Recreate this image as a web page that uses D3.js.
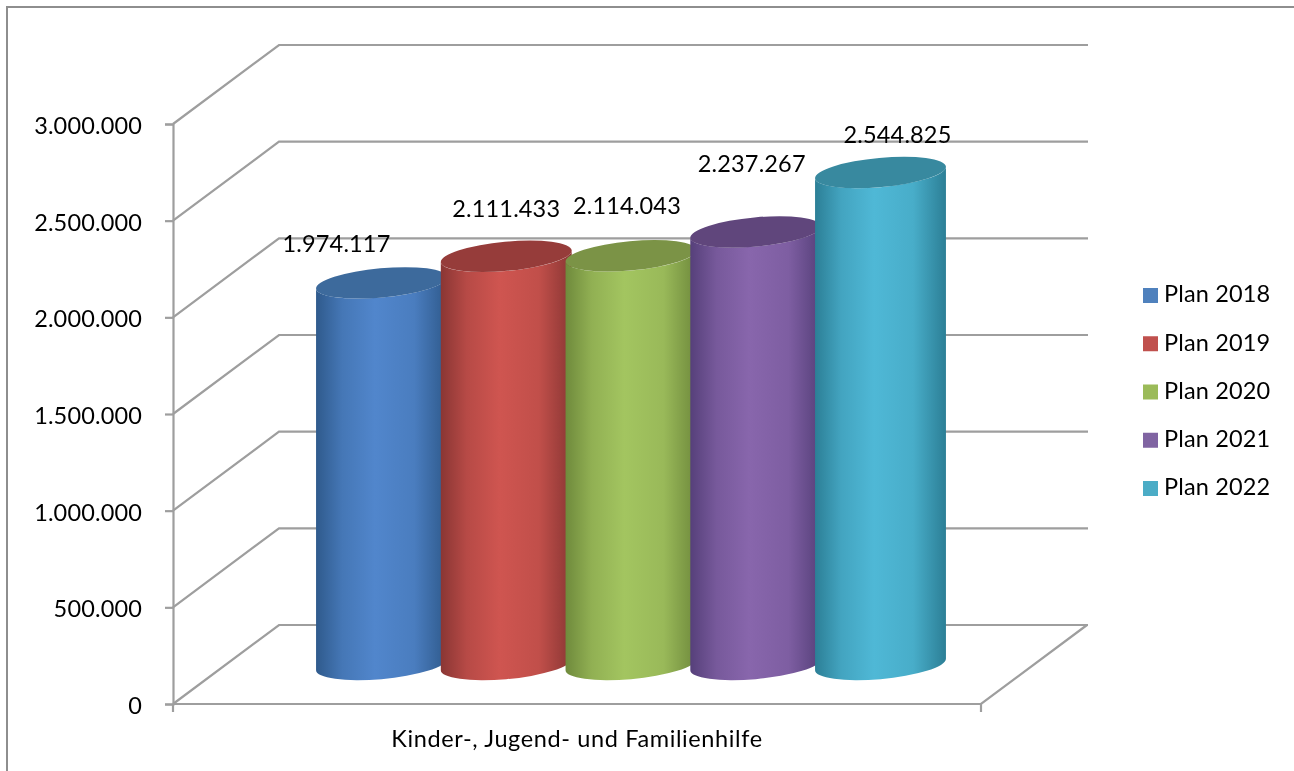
<!DOCTYPE html>
<html>
<head>
<meta charset="utf-8">
<script src="https://cdn.jsdelivr.net/npm/d3@7"></script>
<style>
  html, body { margin: 0; padding: 0; background: #fff; overflow: hidden; }
  svg { filter: blur(0.35px); }
  text { font-family: Lato, "Open Sans", sans-serif; fill: #000; letter-spacing: 0.15px; }
  .grid { fill: none; stroke: #9e9e9e; stroke-width: 2.2; }
</style>
</head>
<body>
<svg id="chart" width="1294" height="771"></svg>
<script>
const series = ["Plan 2018", "Plan 2019", "Plan 2020", "Plan 2021", "Plan 2022"];
const values = [1974117, 2111433, 2114043, 2237267, 2544825];
const category = ["Kinder-, Jugend- und Familienhilfe"];
const yTicks = [0, 500000, 1000000, 1500000, 2000000, 2500000, 3000000];

const mainColors = ["#5186cc", "#cf5550", "#a3c560", "#8866ac", "#4fb8d6"];
const darkColors = ["#2f5a8c", "#8a3634", "#6f8a3c", "#56407a", "#2c7f96"];
const topColors = ["#3d6a9c", "#963c3a", "#7b9346", "#60467c", "#38899f"];
const legendColors = ["#4f81bd", "#c0504d", "#9bbb59", "#8064a2", "#4bacc6"];

// nudge of the value labels away from the top of each cylinder
const labelDx = [-45, 0, -4, -4, 17];
const labelDy = [-39, -48, -50, -68, -38];

const fontSize = 23.5;

const svg = d3.select("#chart");
const de = d3.formatLocale({ decimal: ",", thousands: ".", grouping: [3], currency: ["", "€"] });
const fmt = de.format(",d");

const y = d3.scaleLinear().domain([0, 3000000]).range([704, 124]);
const x = d3.scalePoint().domain(series).range([381.5, 880.5]);

// 3d box: back wall is shifted by this much from the front edge
const depthX = 106, depthY = -79;
const frontRight = 981;
const backRight = 1088;

// outer frame, only left and top show
svg.append("path").attr("d", "M7,771V7H1294").attr("fill", "none").attr("stroke", "#8e8e8e").attr("stroke-width", 2);

// grid lines on side wall and back wall
svg.selectAll(".grid-line").data(yTicks).join("path")
  .attr("class", "grid")
  .attr("d", d => d3.line()([[173, y(d)], [173 + depthX, y(d) + depthY], [backRight, y(d) + depthY]]));

// floor
svg.append("path").attr("class", "grid")
  .attr("d", d3.line()([[173, y(0)], [frontRight, y(0)], [frontRight + depthX, y(0) + depthY]]));

// y axis
const yAxis = d3.axisLeft(y).tickValues(yTicks).tickFormat(fmt).tickSize(8).tickPadding(23);
const gy = svg.append("g").attr("transform", "translate(173,0)").call(yAxis);
gy.select(".domain").attr("stroke", "#9e9e9e").attr("stroke-width", 2.2);
gy.selectAll(".tick line").attr("stroke", "#9e9e9e").attr("stroke-width", 2.2);
gy.selectAll("text").attr("font-size", fontSize).attr("font-family", null).attr("dy", "0.4em");

// x axis
const xBand = d3.scaleBand().domain(category).range([173, frontRight]);
const xAxis = d3.axisBottom(xBand).tickSize(0).tickPadding(26);
const gx = svg.append("g").attr("transform", "translate(0,704)").call(xAxis);
gx.select(".domain").remove();
gx.selectAll("text").attr("font-size", fontSize).attr("font-family", null).style("letter-spacing", "0.62px");
svg.selectAll(".end-tick").data([173, frontRight]).join("line")
  .attr("x1", d => d).attr("x2", d => d).attr("y1", 704).attr("y2", 712)
  .attr("stroke", "#9e9e9e").attr("stroke-width", 2.2);

// cylinders
const a = 65.7, b = 14.6, tilt = -5.2 * Math.PI / 180;
const ext = Math.sqrt(a * a * Math.cos(tilt) ** 2 + b * b * Math.sin(tilt) ** 2);
const tanY = (a * a - b * b) * Math.sin(tilt) * Math.cos(tilt) / ext;
const baseShift = depthY / 2;
const deg = tilt * 180 / Math.PI;

const defs = svg.append("defs");
series.forEach((s, i) => {
  const g = defs.append("linearGradient").attr("id", "cyl" + i);
  const stops = [[0, darkColors[i]], [0.2, d3.interpolateRgb(darkColors[i], mainColors[i])(0.65)], [0.45, mainColors[i]],
    [0.75, d3.interpolateRgb(darkColors[i], mainColors[i])(0.8)], [1, darkColors[i]]];
  g.selectAll("stop").data(stops).join("stop")
    .attr("offset", d => d[0]).attr("stop-color", d => d[1]);
});

const cyl = svg.selectAll(".cyl").data(series).join("g").attr("class", "cyl");
cyl.append("path")
  .attr("fill", (d, i) => `url(#cyl${i})`)
  .attr("d", (d, i) => {
    const cx = x(d), yb = y(0) + baseShift, yt = y(values[i]) + baseShift;
    return `M${cx - ext},${yt - tanY}L${cx - ext},${yb - tanY}` +
      `A${a},${b} ${deg} 0 0 ${cx + ext},${yb + tanY}` +
      `L${cx + ext},${yt + tanY}` +
      `A${a},${b} ${deg} 0 1 ${cx - ext},${yt - tanY}Z`;
  });
cyl.append("ellipse")
  .attr("rx", a).attr("ry", b)
  .attr("fill", (d, i) => topColors[i])
  .attr("transform", (d, i) => `translate(${x(d)},${y(values[i]) + baseShift}) rotate(${deg})`);

// value labels
svg.selectAll(".val").data(series).join("text")
  .attr("class", "val")
  .attr("text-anchor", "middle")
  .attr("font-size", fontSize)
  .attr("dy", "0.36em")
  .attr("x", (d, i) => x(d) + labelDx[i])
  .attr("y", (d, i) => y(values[i]) + baseShift + labelDy[i])
  .text((d, i) => fmt(values[i]));

// legend
const legendY = d3.scalePoint().domain(series).range([295.5, 488.5]);
const legend = svg.selectAll(".leg").data(series).join("g")
  .attr("class", "leg")
  .attr("transform", d => `translate(1143,${legendY(d)})`);
legend.append("rect").attr("y", -7.5).attr("width", 15).attr("height", 15)
  .attr("fill", (d, i) => legendColors[i]);
legend.append("text").attr("x", 21).attr("y", -1.5).attr("dy", "0.36em").attr("font-size", fontSize).text(d => d);
</script>
</body>
</html>
